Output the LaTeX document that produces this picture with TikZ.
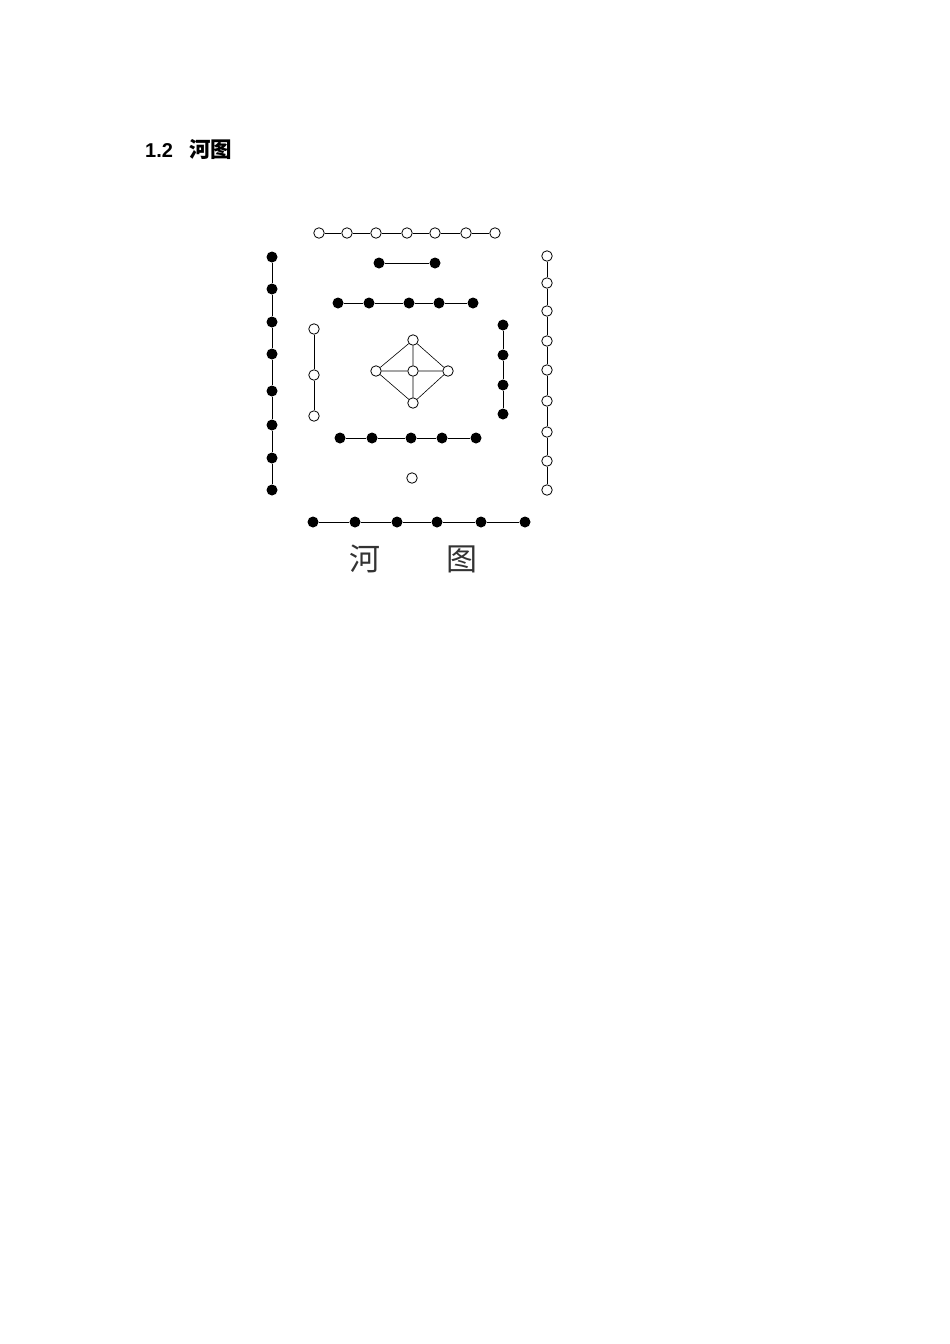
\documentclass[tikz,border=0pt]{standalone}
\usepackage{fontspec}
\setmainfont{Liberation Sans}
\newfontfamily\cjk{Noto Sans CJK SC}
\usetikzlibrary{positioning}
\tikzset{
  yang/.style={circle,draw,fill=white,line width=0.8pt,inner sep=0pt,minimum width=10.5pt,minimum height=10pt},
  yin/.style={circle,fill=black,inner sep=0pt,minimum size=11pt},
  link/.style={line width=1pt}
}
\begin{document}
\begin{tikzpicture}[x=1pt,y=-1pt]
    \useasboundingbox[fill=white] (0,0) rectangle (950,1344);
    % Heading
    \node[anchor=base west,inner sep=0pt,font=\fontsize{20}{22}\selectfont\bfseries] (head) at (145,157)
        {1.2\hspace{16pt}{\cjk\fontsize{21.5}{22}\selectfont 河图}};
    % Top row: seven open
    \foreach \x [count=\i] in {319,347,376,407,435,466,495}
        \node[yang] (t\i) at (\x,233) {};
    \foreach \i [evaluate=\i as \j using int(\i+1)] in {1,...,6}
        \draw[link] (t\i) -- (t\j);
    % Two filled
    \node[yin] (u1) at (379,263) {};
    \node[yin] (u2) at (435,263) {};
    \draw[link] (u1) -- (u2);
    % Upper row: five filled
    \foreach \x [count=\i] in {338,369,409,439,473}
        \node[yin] (m\i) at (\x,303) {};
    \foreach \i [evaluate=\i as \j using int(\i+1)] in {1,...,4}
        \draw[link] (m\i) -- (m\j);
    % Left column: eight filled
    \foreach \y [count=\i] in {257,289,322,354,391,425,458,490}
        \node[yin] (l\i) at (272,\y) {};
    \foreach \i [evaluate=\i as \j using int(\i+1)] in {1,...,7}
        \draw[link] (l\i) -- (l\j);
    % Inner left: three open
    \foreach \y [count=\i] in {329,375,416}
        \node[yang] (k\i) at (314,\y) {};
    \draw[link] (k1) -- (k2);
    \draw[link] (k2) -- (k3);
    % Centre: five open
    \node[yang] (cn) at (413,340) {};
    \node[yang] (cw) at (376,371) {};
    \node[yang] (cc) at (413,371) {};
    \node[yang] (ce) at (448,371) {};
    \node[yang] (cs) at (413,403) {};
    \draw[link,line width=0.6pt] (cn) -- (cw) (cn) -- (ce) (cs) -- (cw) (cs) -- (ce)
        (cn) -- (cc) (cc) -- (cs) (cw) -- (cc) (cc) -- (ce);
    % Inner right: four filled
    \foreach \y [count=\i] in {325,355,385,414}
        \node[yin] (r\i) at (503,\y) {};
    \foreach \i [evaluate=\i as \j using int(\i+1)] in {1,...,3}
        \draw[link] (r\i) -- (r\j);
    % Right column: nine open
    \foreach \y [count=\i] in {256,283,311,341,370,401,432,461,490}
        \node[yang] (o\i) at (547,\y) {};
    \foreach \i [evaluate=\i as \j using int(\i+1)] in {1,...,8}
        \draw[link] (o\i) -- (o\j);
    % Lower row: five filled
    \foreach \x [count=\i] in {340,372,411,442,476}
        \node[yin] (n\i) at (\x,438) {};
    \foreach \i [evaluate=\i as \j using int(\i+1)] in {1,...,4}
        \draw[link] (n\i) -- (n\j);
    % Single open
    \node[yang] (s1) at (412,478) {};
    % Bottom row: six filled
    \foreach \x [count=\i] in {313,355,397,437,481,525}
        \node[yin] (b\i) at (\x,522) {};
    \foreach \i [evaluate=\i as \j using int(\i+1)] in {1,...,5}
        \draw[link] (b\i) -- (b\j);
    % Caption
    \node[inner sep=0pt,text=black!80,font=\cjk\fontsize{31}{31}\selectfont] (he) at (365,559) {河};
    \node[inner sep=0pt,text=black!80,font=\cjk\fontsize{31}{31}\selectfont] (tu) at (462,559) {图};
\end{tikzpicture}
\end{document}
